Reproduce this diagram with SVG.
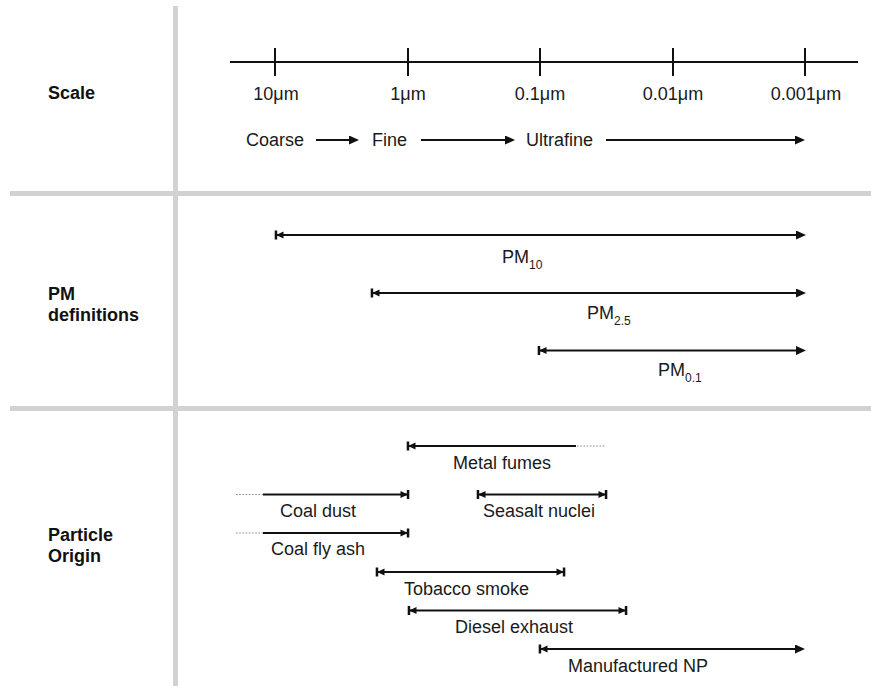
<svg xmlns="http://www.w3.org/2000/svg" width="871" height="686" viewBox="0 0 871 686">
<style>
.grid{fill:#d2d2d2}
.lbl{font-family:"Liberation Sans",Arial,sans-serif;font-size:18px;fill:#1a1a1a}
.hdr{font-family:"Liberation Sans",Arial,sans-serif;font-size:18px;font-weight:bold;fill:#111}
.sub{font-size:12px}
.ln{stroke:#111;stroke-width:2.2;fill:none}
.dot{stroke:#8a8a8a;stroke-width:1.2;stroke-dasharray:1.6 1.6;fill:none}
.tick{stroke:#111;stroke-width:2}
</style>
<defs>
<marker id="tip" viewBox="0 0 10 9" refX="4" refY="4.5" markerWidth="10" markerHeight="9" markerUnits="userSpaceOnUse" orient="auto-start-reverse">
<path d="M0,0 L10,4.5 L0,9 z" fill="#111"/>
</marker>
<marker id="bartip" viewBox="0 0 10 11" refX="8" refY="5.5" markerWidth="10" markerHeight="11" markerUnits="userSpaceOnUse" orient="auto-start-reverse">
<path d="M0.5,2 L8,5.5 L0.5,9 z" fill="#111"/>
<rect x="6.8" y="1" width="2.5" height="9" fill="#111"/>
</marker>
</defs>

<g id="frame">
<rect class="grid" x="173" y="6" width="5" height="680"/>
<rect class="grid" x="10" y="191" width="861" height="5"/>
<rect class="grid" x="10" y="406" width="861" height="5"/>
</g>

<g id="row-labels">
<text class="hdr" x="48" y="99">Scale</text>
<text class="hdr" x="48" y="300">PM</text>
<text class="hdr" x="48" y="321">definitions</text>
<text class="hdr" x="48" y="541">Particle</text>
<text class="hdr" x="48" y="562">Origin</text>
</g>

<g id="scale-axis">
<line class="ln" x1="230" y1="62" x2="858" y2="62"/>
<line class="tick" x1="275" y1="48" x2="275" y2="76"/>
<line class="tick" x1="408" y1="48" x2="408" y2="76"/>
<line class="tick" x1="540" y1="48" x2="540" y2="76"/>
<line class="tick" x1="673" y1="48" x2="673" y2="76"/>
<line class="tick" x1="805" y1="48" x2="805" y2="76"/>
<g text-anchor="middle">
<text class="lbl" x="276" y="100">10μm</text>
<text class="lbl" x="408" y="100">1μm</text>
<text class="lbl" x="540" y="100">0.1μm</text>
<text class="lbl" x="673" y="100">0.01μm</text>
<text class="lbl" x="806" y="100">0.001μm</text>
</g>
</g>

<g id="size-classes">
<text class="lbl" x="246" y="146">Coarse</text>
<text class="lbl" x="372" y="146">Fine</text>
<text class="lbl" x="526" y="146">Ultrafine</text>
</g>

<g id="pm-labels">
<text class="lbl" x="502" y="263">PM<tspan class="sub" dy="6">10</tspan></text>
<text class="lbl" x="587" y="319">PM<tspan class="sub" dy="6">2.5</tspan></text>
<text class="lbl" x="658" y="376">PM<tspan class="sub" dy="6">0.1</tspan></text>
</g>

<g id="origin-labels">
<text class="lbl" x="453" y="469">Metal fumes</text>
<text class="lbl" x="280" y="517">Coal dust</text>
<text class="lbl" x="483" y="517">Seasalt nuclei</text>
<text class="lbl" x="271" y="555">Coal fly ash</text>
<text class="lbl" x="404" y="595">Tobacco smoke</text>
<text class="lbl" x="455" y="633">Diesel exhaust</text>
<text class="lbl" x="568" y="672">Manufactured NP</text>
</g>

<g id="connectors">
<line class="ln" x1="316" y1="140" x2="353" y2="140" marker-end="url(#tip)"/>
<line class="ln" x1="421" y1="140" x2="509" y2="140" marker-end="url(#tip)"/>
<line class="ln" x1="606" y1="140" x2="799" y2="140" marker-end="url(#tip)"/>

<line class="ln" x1="276" y1="235" x2="800" y2="235" marker-start="url(#bartip)" marker-end="url(#tip)"/>
<line class="ln" x1="372" y1="293" x2="800" y2="293" marker-start="url(#bartip)" marker-end="url(#tip)"/>
<line class="ln" x1="539" y1="350.5" x2="800" y2="350.5" marker-start="url(#bartip)" marker-end="url(#tip)"/>

<line class="ln" x1="408" y1="446" x2="576" y2="446" marker-start="url(#bartip)"/>
<line class="dot" x1="577" y1="446" x2="606" y2="446"/>

<line class="dot" x1="236" y1="494.5" x2="263" y2="494.5"/>
<line class="ln" x1="263" y1="494.5" x2="408" y2="494.5" marker-end="url(#bartip)"/>
<line class="ln" x1="478" y1="494.5" x2="606" y2="494.5" marker-start="url(#bartip)" marker-end="url(#bartip)"/>

<line class="dot" x1="236" y1="533" x2="263" y2="533"/>
<line class="ln" x1="263" y1="533" x2="408" y2="533" marker-end="url(#bartip)"/>

<line class="ln" x1="377" y1="572" x2="564" y2="572" marker-start="url(#bartip)" marker-end="url(#bartip)"/>
<line class="ln" x1="409" y1="610.5" x2="626" y2="610.5" marker-start="url(#bartip)" marker-end="url(#bartip)"/>
<line class="ln" x1="540" y1="649" x2="799" y2="649" marker-start="url(#bartip)" marker-end="url(#tip)"/>
</g>
</svg>
